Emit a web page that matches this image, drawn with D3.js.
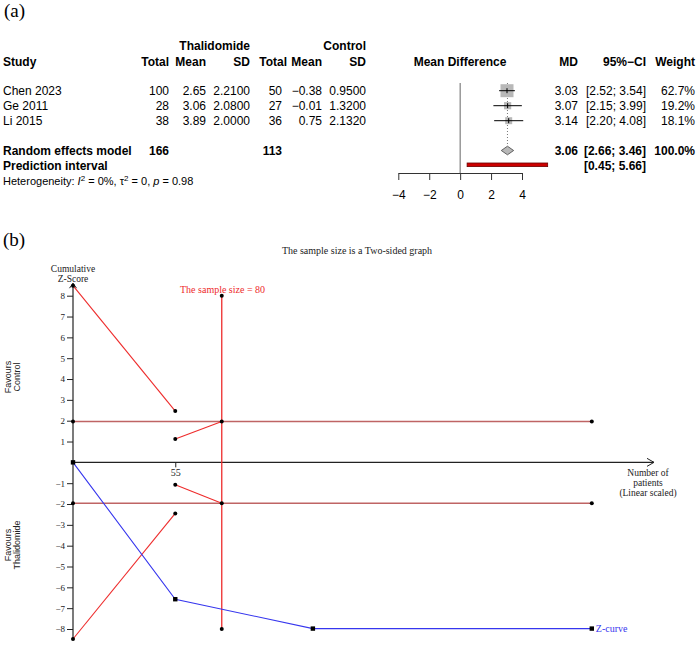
<!DOCTYPE html>
<html>
<head>
<meta charset="utf-8">
<script src="https://cdn.jsdelivr.net/npm/d3@7"></script>
<style>
  body { margin: 0; background: #fff; }
  svg { display: block; }
</style>
</head>
<body>
<script>
// ---- (a) forest plot data ----
var studies   = ["Chen 2023", "Ge 2011", "Li 2015"];
var thalTotal = [100, 28, 38];
var thalMean  = [2.65, 3.06, 3.89];
var thalSD    = [2.21, 2.08, 2.0];
var ctrlTotal = [50, 27, 36];
var ctrlMean  = [-0.38, -0.01, 0.75];
var ctrlSD    = [0.95, 1.32, 2.132];
var md        = [3.03, 3.07, 3.14];
var ciLow     = [2.52, 2.15, 2.20];
var ciHigh    = [3.54, 3.99, 4.08];
var weight    = [62.7, 19.2, 18.1];
var pooled    = [3.06, 2.66, 3.46];   // estimate, lower, upper
var predInt   = [0.45, 5.66];
var totals    = [166, 113];
var forestTicks = [-4, -2, 0, 2, 4];

// ---- (b) trial sequential analysis data ----
var cumN   = [0, 55, 129, 279];
var zCurve = [0, -6.57, -7.98, -7.98];
var upperN = [0, 55],  upperZ = [8.48, 2.46];
var lowerN = [0, 55],  lowerZ = [-8.48, -2.45];
var futUpN = [55, 80], futUpZ = [1.12, 1.96];
var futLoN = [55, 80], futLoZ = [-1.07, -1.96];
var risN = 80;
var convZ = 1.96;
var zTicks = [-8, -7, -6, -5, -4, -3, -2, -1, 1, 2, 3, 4, 5, 6, 7, 8];
var nTicks = [55];

var W = 700, H = 645;
var sans = "'Liberation Sans', Arial, Helvetica, sans-serif";
var serif = "'Liberation Serif', 'Times New Roman', serif";

var svg = d3.select("body").append("svg")
    .attr("width", W).attr("height", H)
    .style("background", "#fff");

var f2 = d3.format(".2f"), f4 = d3.format(".4f"), f1 = d3.format(".1f");

// ================= (a) =================
var ga = svg.append("g").style("font-family", sans).style("font-size", "12px");

svg.append("text").attr("x", 4).attr("y", 17)
    .style("font-family", serif).style("font-size", "19px").text("(a)");

var rowY = function(i) { return 95 + i * 15; };
var yRE = 155, yPI = 170, yHet = 185;

// column right edges
var col = { tT: 169, tM: 206, tS: 250, cT: 282, cTh: 287, cM: 322, cS: 366, md: 578, ci: 646, w: 695 };

function txt(g, x, y, s, anchor, bold) {
  return g.append("text").attr("x", x).attr("y", y)
      .attr("text-anchor", anchor || "end")
      .style("font-weight", bold ? "bold" : "normal")
      .text(s);
}

// headers
txt(ga, col.tS, 50, "Thalidomide", "end", true);
txt(ga, col.cS, 50, "Control", "end", true);
txt(ga, 3, 66, "Study", "start", true);
txt(ga, col.tT, 66, "Total", "end", true);
txt(ga, col.tM, 66, "Mean", "end", true);
txt(ga, col.tS, 66, "SD", "end", true);
txt(ga, col.cTh, 66, "Total", "end", true);
txt(ga, col.cM, 66, "Mean", "end", true);
txt(ga, col.cS, 66, "SD", "end", true);
txt(ga, 460, 66, "Mean Difference", "middle", true);
txt(ga, col.md, 66, "MD", "end", true);
txt(ga, col.ci, 66, "95%\u2212CI", "end", true);
txt(ga, col.w, 66, "Weight", "end", true);

studies.forEach(function(s, i) {
  var y = rowY(i);
  txt(ga, 3, y, s, "start");
  txt(ga, col.tT, y, thalTotal[i]);
  txt(ga, col.tM, y, f2(thalMean[i]));
  txt(ga, col.tS, y, f4(thalSD[i]));
  txt(ga, col.cT, y, ctrlTotal[i]);
  txt(ga, col.cM, y, f2(ctrlMean[i]));
  txt(ga, col.cS, y, f4(ctrlSD[i]));
  txt(ga, col.md, y, f2(md[i]));
  txt(ga, col.ci, y, "[" + f2(ciLow[i]) + "; " + f2(ciHigh[i]) + "]");
  txt(ga, col.w, y, f1(weight[i]) + "%");
});

txt(ga, 3, yRE, "Random effects model", "start", true);
txt(ga, col.tT, yRE, totals[0], "end", true);
txt(ga, col.cT, yRE, totals[1], "end", true);
txt(ga, col.md, yRE, f2(pooled[0]), "end", true);
txt(ga, col.ci, yRE, "[" + f2(pooled[1]) + "; " + f2(pooled[2]) + "]", "end", true);
txt(ga, col.w, yRE, "100.0%", "end", true);
txt(ga, 3, yPI, "Prediction interval", "start", true);
txt(ga, col.ci, yPI, "[" + f2(predInt[0]) + "; " + f2(predInt[1]) + "]", "end", true);

var het = ga.append("text").attr("x", 3).attr("y", yHet).style("font-size", "11px");
het.append("tspan").text("Heterogeneity: ");
het.append("tspan").style("font-style", "italic").text("I");
het.append("tspan").attr("dy", -4).style("font-size", "8px").text("2");
het.append("tspan").attr("dy", 4).text(" = 0%, \u03c4");
het.append("tspan").attr("dy", -4).style("font-size", "8px").text("2");
het.append("tspan").attr("dy", 4).text(" = 0, ");
het.append("tspan").style("font-style", "italic").text("p");
het.append("tspan").text(" = 0.98");

// forest graphics
var fx = d3.scaleLinear().domain([-4, 4]).range([398.3, 522]);
var axisY = 173;

ga.append("line")
    .attr("x1", fx(0)).attr("x2", fx(0))
    .attr("y1", 83).attr("y2", axisY)
    .attr("stroke", "#666").attr("stroke-width", 1);

var rowC = function(i) { return rowY(i) - 4.3; };

// dotted line at pooled estimate
ga.append("line")
    .attr("x1", fx(pooled[0])).attr("x2", fx(pooled[0]))
    .attr("y1", 83).attr("y2", yRE - 9)
    .attr("stroke", "#777").attr("stroke-width", 1)
    .attr("stroke-dasharray", "1,2");

studies.forEach(function(s, i) {
  var c = rowC(i);
  var sz = 13 * Math.sqrt(weight[i] / weight[0]);
  ga.append("rect")
      .attr("x", fx(md[i]) - sz / 2).attr("y", c - sz / 2)
      .attr("width", sz).attr("height", sz)
      .attr("fill", "#b8b8b8");
  ga.append("line")
      .attr("x1", fx(ciLow[i])).attr("x2", fx(ciHigh[i]))
      .attr("y1", c).attr("y2", c)
      .attr("stroke", "#000").attr("stroke-width", 1);
  ga.append("line")
      .attr("x1", fx(md[i])).attr("x2", fx(md[i]))
      .attr("y1", c - 2.5).attr("y2", c + 2.5)
      .attr("stroke", "#000").attr("stroke-width", 1);
});

var dc = yRE - 4.5;
ga.append("path")
    .attr("d", "M" + fx(pooled[1]) + "," + dc +
               "L" + fx(pooled[0]) + "," + (dc - 4.3) +
               "L" + fx(pooled[2]) + "," + dc +
               "L" + fx(pooled[0]) + "," + (dc + 4.3) + "Z")
    .attr("fill", "#b8b8b8").attr("stroke", "#444").attr("stroke-width", 0.8);

ga.append("rect")
    .attr("x", fx(predInt[0])).attr("y", yPI - 7)
    .attr("width", fx(predInt[1]) - fx(predInt[0])).attr("height", 3.6)
    .attr("fill", "#cc0000").attr("stroke", "#6b0000").attr("stroke-width", 0.8);

var fAxis = ga.append("g")
    .attr("transform", "translate(0," + axisY + ")")
    .call(d3.axisBottom(fx).tickValues(forestTicks).tickSize(7).tickSizeOuter(0).tickPadding(10)
          .tickFormat(d3.format("d")));
fAxis.select(".domain").attr("stroke", "#333");
fAxis.selectAll(".tick line").attr("stroke", "#333");
fAxis.selectAll("text").style("font-family", sans).style("font-size", "12px").attr("fill", "#000");

// ================= (b) =================
var gb = svg.append("g").style("font-family", serif).style("font-size", "10px");

svg.append("text").attr("x", 3).attr("y", 246)
    .style("font-family", serif).style("font-size", "19px").text("(b)");

var x = d3.scaleLinear().domain([0, 279]).range([73, 591.8]);
var y = d3.scaleLinear().domain([-8, 8]).range([629, 295.7]);

var red = "#ee2b2b", blue = "#3636ee", hline = "#bf6464";

gb.append("text").attr("x", 357).attr("y", 254).attr("text-anchor", "middle")
    .attr("fill", "#222").text("The sample size is a Two-sided graph");

// axes
var yAxisG = gb.append("g").attr("transform", "translate(" + x(0) + ",0)")
    .call(d3.axisLeft(y).tickValues(zTicks).tickSize(6).tickPadding(2).tickFormat(d3.format("d")));
yAxisG.select(".domain").remove();
yAxisG.selectAll(".tick line").attr("stroke", "#222");
yAxisG.selectAll("text").style("font-family", serif).style("font-size", "9px").attr("fill", "#222");

var yTop = y(8.6), yBot = y(-8.5);
gb.append("line").attr("x1", x(0)).attr("x2", x(0)).attr("y1", yTop).attr("y2", yBot)
    .attr("stroke", "#222").attr("stroke-width", 1.2);
gb.append("path")
    .attr("d", "M" + (x(0) - 3.5) + "," + (yTop + 5) + "L" + x(0) + "," + yTop + "L" + (x(0) + 3.5) + "," + (yTop + 5))
    .attr("fill", "none").attr("stroke", "#222").attr("stroke-width", 1);

var xEnd = 654;
gb.append("line").attr("x1", x(0)).attr("x2", xEnd).attr("y1", y(0)).attr("y2", y(0))
    .attr("stroke", "#222").attr("stroke-width", 1.2);
gb.append("path")
    .attr("d", "M" + (xEnd - 7) + "," + (y(0) - 4) + "L" + xEnd + "," + y(0) + "L" + (xEnd - 7) + "," + (y(0) + 4))
    .attr("fill", "none").attr("stroke", "#222").attr("stroke-width", 1);

var xAxisG = gb.append("g").attr("transform", "translate(0," + y(0) + ")")
    .call(d3.axisBottom(x).tickValues(nTicks).tickSize(5).tickPadding(2));
xAxisG.select(".domain").remove();
xAxisG.selectAll(".tick line").attr("stroke", "#222");
xAxisG.selectAll("text").style("font-family", serif).style("font-size", "10px").attr("fill", "#222");

var cz = ["Cumulative", "Z-Score"];
cz.forEach(function(s, i) {
  gb.append("text").attr("x", x(0)).attr("y", 272 + i * 9.5).attr("text-anchor", "middle")
      .style("font-size", "9.5px").attr("fill", "#222").text(s);
});

var nl = ["Number of", "patients", "(Linear scaled)"];
nl.forEach(function(s, i) {
  gb.append("text").attr("x", 648).attr("y", 476 + i * 9.8).attr("text-anchor", "middle")
      .style("font-size", "9.5px").attr("fill", "#222").text(s);
});

function sideLabel(cy, lines) {
  lines.forEach(function(s, i) {
    gb.append("text")
        .attr("transform", "translate(" + (11 + i * 9) + "," + cy + ") rotate(-90)")
        .attr("text-anchor", "middle")
        .style("font-family", "'Liberation Sans Narrow', 'Liberation Sans', sans-serif")
        .style("font-size", "9px")
        .attr("fill", "#222").text(s);
  });
}
sideLabel(377, ["Favours", "Control"]);
sideLabel(545, ["Favours", "Thalidomide"]);

// conventional boundaries
[convZ, -convZ].forEach(function(z) {
  gb.append("line").attr("x1", x(0)).attr("x2", x(279)).attr("y1", y(z)).attr("y2", y(z))
      .attr("stroke", hline).attr("stroke-width", 1.5);
});

var line = d3.line().x(function(d) { return x(d[0]); }).y(function(d) { return y(d[1]); });
function zipPts(a, b) { return a.map(function(v, i) { return [v, b[i]]; }); }

// required information size line
gb.append("line").attr("x1", x(risN)).attr("x2", x(risN)).attr("y1", y(8)).attr("y2", y(-8))
    .attr("stroke", red).attr("stroke-width", 1.3);
gb.append("text").attr("x", 180).attr("y", 293).attr("fill", red).text("The sample size = " + risN);

[[upperN, upperZ], [lowerN, lowerZ], [futUpN, futUpZ], [futLoN, futLoZ]].forEach(function(p) {
  gb.append("path").attr("d", line(zipPts(p[0], p[1])))
      .attr("fill", "none").attr("stroke", red).attr("stroke-width", 1.1);
});

// Z-curve
gb.append("path").attr("d", line(zipPts(cumN, zCurve)))
    .attr("fill", "none").attr("stroke", blue).attr("stroke-width", 1.1);

// point markers
var dots = [].concat(
  zipPts(upperN, upperZ), zipPts(lowerN, lowerZ),
  zipPts(futUpN, futUpZ), zipPts(futLoN, futLoZ),
  [[risN, 8], [risN, -8]],
  [[0, convZ], [0, -convZ], [279, convZ], [279, -convZ]]
);
gb.selectAll(".dot").data(dots).enter().append("circle")
    .attr("cx", function(d) { return x(d[0]); })
    .attr("cy", function(d) { return y(d[1]); })
    .attr("r", 2).attr("fill", "#000");

gb.selectAll(".sq").data(zipPts(cumN, zCurve)).enter().append("rect")
    .attr("x", function(d) { return x(d[0]) - 2.2; })
    .attr("y", function(d) { return y(d[1]) - 2.2; })
    .attr("width", 4.4).attr("height", 4.4).attr("fill", "#000");

gb.append("text").attr("x", x(279) + 4).attr("y", y(zCurve[3]) + 3.5)
    .attr("fill", blue).text("Z-curve");
</script>
</body>
</html>
